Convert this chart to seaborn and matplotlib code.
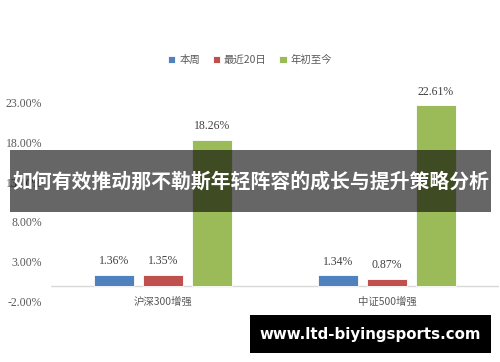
import matplotlib
matplotlib.use("Agg")
import matplotlib.pyplot as plt
from matplotlib.patches import Rectangle
import seaborn as sns
import pandas as pd

categories = ["沪深300增强", "中证500增强"]
series_names = ["本周", "最近20日", "年初至今"]
week = [1.36, 1.34]
last20 = [1.35, 0.87]
ytd = [18.26, 22.61]
yticks = [-2, 3, 8, 13, 18, 23]
title_text = "如何有效推动那不勒斯年轻阵容的成长与提升策略分析"
watermark = "www.ltd-biyingsports.com"

colors = ["#4F81BD", "#C0504D", "#9BBB59"]

rows = []
for s, vals in zip(series_names, [week, last20, ytd]):
    for c, v in zip(categories, vals):
        rows.append({"cat": c, "series": s, "val": v})
df = pd.DataFrame(rows)

sns.set_theme(style="white")
plt.rcParams['font.family'] = ['Liberation Serif', 'Noto Sans CJK SC', 'DejaVu Sans']
cjk = ['Noto Sans CJK SC', 'DejaVu Sans']

fig = plt.figure(figsize=(5, 3.62), dpi=100)
ax = fig.add_axes([0.102, 0.166, 0.896, 0.552])

sns.barplot(data=df, x="cat", y="val", hue="series", palette=colors,
            saturation=1, width=0.656, gap=0.2, ax=ax, edgecolor="white",
            linewidth=0.6, legend=True)

for cont in ax.containers:
    ax.bar_label(cont, fmt="%.2f%%", padding=5.5, fontsize=8.5, color="#404040",
                 family=['Liberation Serif', 'DejaVu Sans'])

ax.set_xlim(-0.5, 1.5)
ax.set_ylim(-2, 23)
ax.set_yticks(yticks)
ax.set_yticklabels([f"{t:.2f}%" for t in yticks], fontsize=8.5, color="#595959",
                   family=['Liberation Serif', 'DejaVu Sans'])
ax.set_xticks(range(len(categories)))
ax.set_xticklabels(categories, fontsize=7.5, color="#595959", family=cjk)
ax.tick_params(axis='y', length=0, pad=6.5)
ax.tick_params(axis='x', length=0, pad=-4)
ax.set_xlabel("")
ax.set_ylabel("")
for sp in ax.spines.values():
    sp.set_visible(False)
ax.axhline(0, color="#d9d9d9", linewidth=1, zorder=0.5)

leg = ax.legend(loc="center", bbox_to_anchor=(0.5, 1 - 60 / 362),
                bbox_transform=fig.transFigure, ncol=3, frameon=False,
                handlelength=0.7, handleheight=0.7, handletextpad=0.4,
                columnspacing=1.2, prop={'family': cjk, 'size': 7.5})
for t in leg.get_texts():
    t.set_color("#595959")

# overlay banner
fig.add_artist(Rectangle((0.02, 0.414), 0.962, 0.171, transform=fig.transFigure,
                         facecolor="black", alpha=0.6, edgecolor="none", zorder=5))
fig.text(0.501, 0.5, title_text, ha="center", va="center", color="white",
         fontsize=14.3, fontweight="bold", family=cjk, zorder=6)

# watermark
fig.add_artist(Rectangle((0.5, 0.0249), 0.482, 0.105, transform=fig.transFigure,
                         facecolor="black", edgecolor="none", zorder=5))
fig.text(0.741, 0.077, watermark, ha="center", va="center", color="white",
         fontsize=10.8, fontweight="bold", family=['DejaVu Sans'], zorder=6)

fig.savefig("out.png", dpi=100)
